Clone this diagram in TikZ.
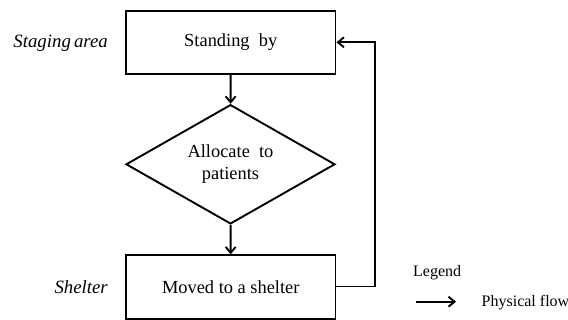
\documentclass[tikz,border=0pt]{standalone}
\usepackage{fontspec}
\setmainfont{Liberation Serif}
\usetikzlibrary{shapes.geometric,arrows.meta}
\begin{document}
\begin{tikzpicture}[x=1pt,y=1pt,
  lw/.style={line width=1.9pt},
  procbox/.style={draw,lw,rectangle,minimum width=209.5pt,minimum height=63.3pt,inner sep=0pt,font=\rmfamily\fontsize{18.4}{22}\selectfont},
  decbox/.style={draw,lw,diamond,aspect=1.75,minimum width=209pt,minimum height=119.3pt,inner sep=0pt,align=center,font=\rmfamily\fontsize{18.4}{21.7}\selectfont},
  side/.style={anchor=east,inner sep=0pt,font=\rmfamily\fontsize{18.8}{22}\selectfont\itshape},
  leg/.style={anchor=west,inner sep=0pt,font=\rmfamily\fontsize{16}{19}\selectfont},
  flow/.style={lw,-{Straight Barb[length=6pt,width=10pt,line width=1.9pt]}}]
\useasboundingbox (0,0) rectangle (568,320);
\node[procbox] (stand) at (230.75,277.65) {Standing\ \ by};
\node[decbox] (alloc) at (230.5,155.7) {Allocate\ \ to\\patients};
\node[procbox] (move) at (230.75,33) {Moved to a shelter};
\node[side] (staging) at (108,277) {Staging\,area};
\node[side] (shelter) at (108,32.5) {Shelter};
\coordinate (c1) at (375.3,33.5);
\coordinate (c2) at (375.3,277.7);
\draw[flow] (stand) -- (alloc);
\draw[flow] (alloc) -- (move);
\draw[flow] (move.east |- c1) -- (c1) -- (c2) -- (stand.east |- c2);
\node[leg] (legend) at (413,47) {Legend};
\coordinate (la) at (416,18.3);
\coordinate (lb) at (456,18.3);
\draw[flow] (la) -- (lb);
\node[leg] (phys) at (481.5,17) {Physical flow};
\end{tikzpicture}
\end{document}
